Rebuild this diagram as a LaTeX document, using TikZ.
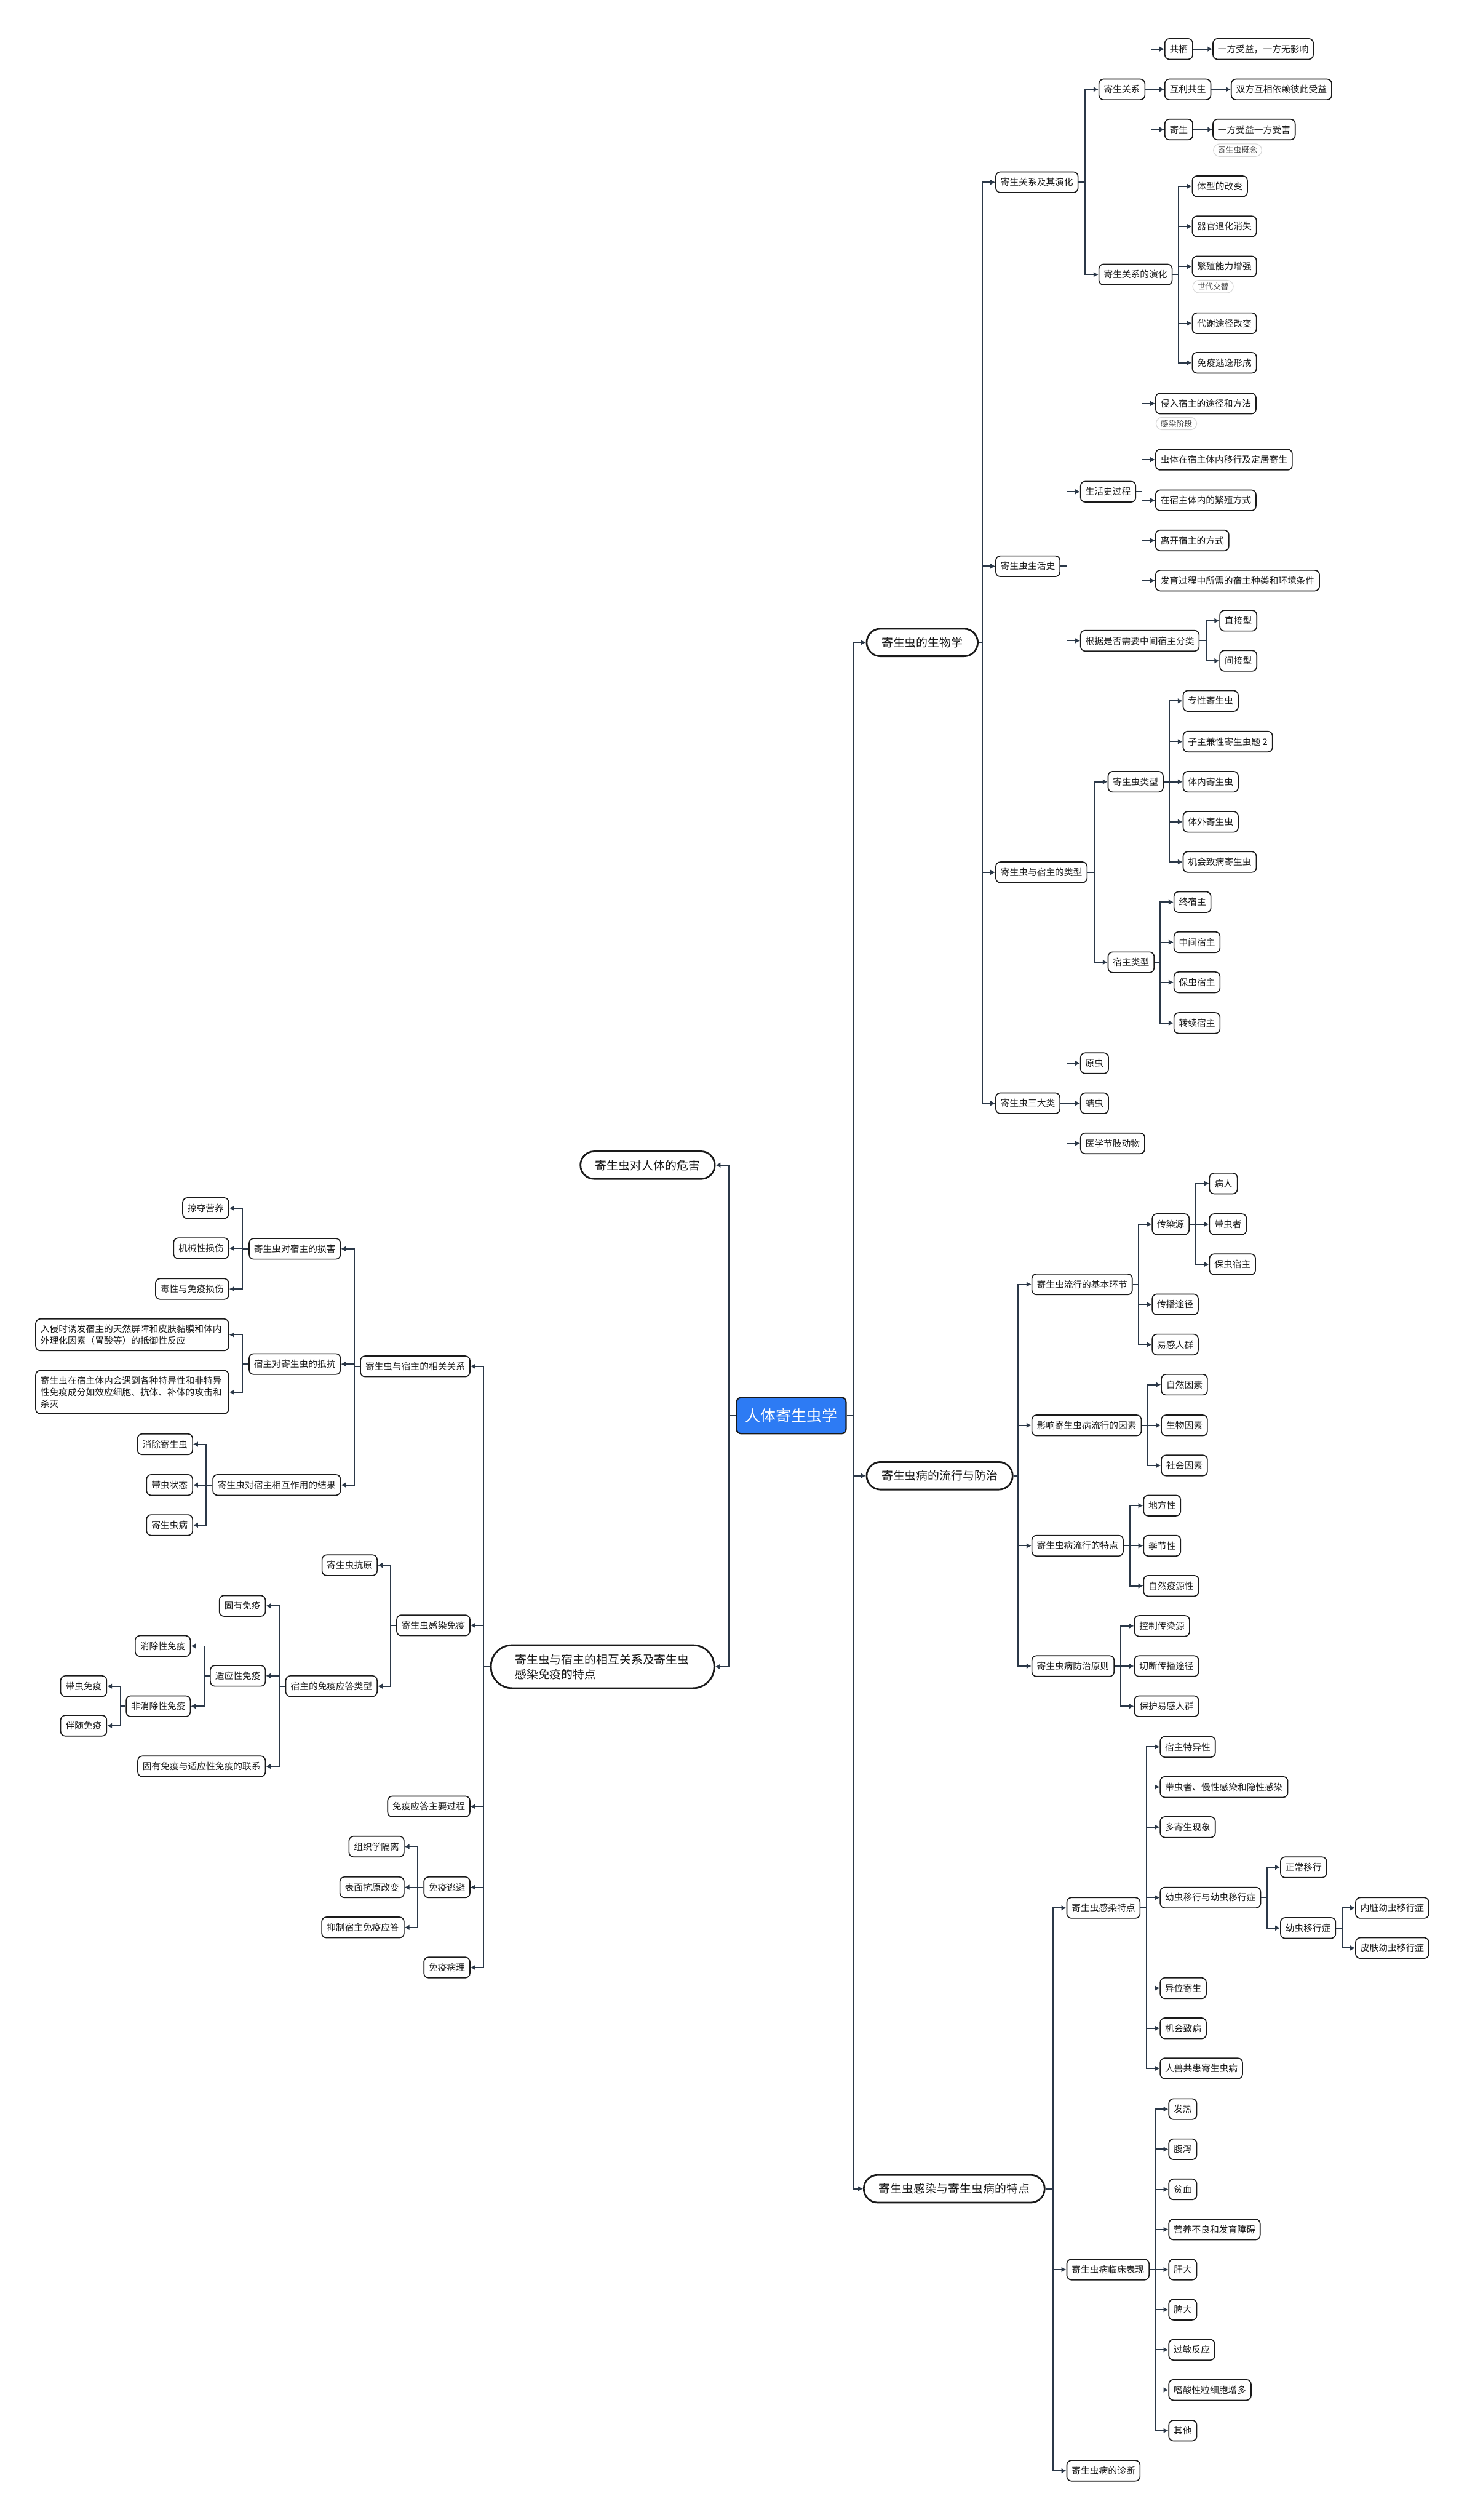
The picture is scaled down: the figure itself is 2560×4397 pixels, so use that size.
\documentclass[tikz,border=0pt]{standalone}
\usepackage{fontspec}
\newfontfamily\cjk{Noto Sans CJK SC}
\usetikzlibrary{arrows.meta}
\definecolor{lc}{HTML}{2B3848}
\definecolor{bd}{HTML}{1A1A1A}
\definecolor{rootblue}{HTML}{2D7BF4}
\definecolor{notegray}{HTML}{D8D8D8}
\newcommand\conR[2]{\draw[conn] (#1.east) -| ([xshift=-2.3mm]#2.west) -- (#2.west);}
\newcommand\conL[2]{\draw[conn] (#1.west) -| ([xshift=2.3mm]#2.east) -- (#2.east);}
\begin{document}
\begin{tikzpicture}[x=0.1mm,y=-0.1mm,
  leaf/.style={draw=bd, line width=0.5pt, rounded corners=0.8mm, fill=white, inner xsep=0.85mm, inner ysep=0.6mm, minimum height=3.6mm, font=\cjk\fontsize{4.5pt}{5.8pt}\selectfont, text=black!90},
  lvl/.style={leaf, line width=0.85pt, rounded corners=2.4mm, inner xsep=2.6mm, minimum height=4.8mm, font=\cjk\fontsize{5.77pt}{7.4pt}\selectfont},
  notebox/.style={draw=notegray, line width=0.35pt, rounded corners=1.1mm, fill=white, inner xsep=0.8mm, inner ysep=0.3mm, minimum height=2.2mm, font=\cjk\fontsize{3.9pt}{4.5pt}\selectfont, text=black!75},
  longbox/.style={leaf, text width=91pt, align=left, inner ysep=1mm},
  rootn/.style={fill=rootblue, draw=bd, line width=0.7pt, rounded corners=0.8mm, minimum width=19.1mm, minimum height=6.3mm, text=white, font=\cjk\fontsize{7.62pt}{9pt}\selectfont},
  conn/.style={draw=lc, line width=0.55pt, -{Latex[length=0.85mm,width=0.95mm]}},
  aw/.style={anchor=west}, ae/.style={anchor=east}]
\useasboundingbox (0,0) rectangle (2560,4397);
\fill[white] (0,0) rectangle (2560,4397);

% root and level 1
\node[rootn] (root) at (1381,2470) {人体寄生虫学};
\node[lvl,aw] (bio) at (1511,1121) {寄生虫的生物学};
\node[lvl,aw] (epi) at (1511,2575) {寄生虫病的流行与防治};
\node[lvl,aw] (inf) at (1506,3819) {寄生虫感染与寄生虫病的特点};
\node[lvl,ae] (harm) at (1249,2033) {寄生虫对人体的危害};
\node[lvl,ae, text width=87pt, align=left, minimum height=7.5mm, rounded corners=3.7mm, inner xsep=4.2mm] (rel) at (1248,2908) {寄生虫与宿主的相互关系及寄生虫\\感染免疫的特点};

\coordinate (rs) at ([xshift=1.2mm]root.east);
\coordinate (ls) at ([xshift=-1.2mm]root.west);
\draw[conn] (root.east) -- (rs) |- (bio.west);
\draw[conn] (root.east) -- (rs) |- (epi.west);
\draw[conn] (root.east) -- (rs) |- (inf.west);
\draw[conn] (root.west) -- (ls) |- (harm.east);
\draw[conn] (root.west) -- (ls) |- (rel.east);

% ===== bio subtree =====
\node[leaf,aw] (b1) at (1737,318) {寄生关系及其演化};
\node[leaf,aw] (b2) at (1737,988) {寄生虫生活史};
\node[leaf,aw] (b3) at (1737,1522) {寄生虫与宿主的类型};
\node[leaf,aw] (b4) at (1737,1925) {寄生虫三大类};
\foreach \c in {b1,b2,b3,b4} {\conR{bio}{\c}}

\node[leaf,aw] (b11) at (1917,156) {寄生关系};
\node[leaf,aw] (b12) at (1917,479) {寄生关系的演化};
\conR{b1}{b11} \conR{b1}{b12}

\node[leaf,aw] (b111) at (2032,85.5) {共栖};
\node[leaf,aw] (b112) at (2032,156) {互利共生};
\node[leaf,aw] (b113) at (2032,226) {寄生};
\conR{b11}{b111} \conR{b11}{b112} \conR{b11}{b113}
\node[leaf,aw] (b1111) at (2116,85.5) {一方受益，一方无影响};
\node[leaf,aw] (b1121) at (2148,156) {双方互相依赖彼此受益};
\node[leaf,aw] (b1131) at (2116,226) {一方受益一方受害};
\draw[conn] (b111.east) -- (b1111.west);
\draw[conn] (b112.east) -- (b1121.west);
\draw[conn] (b113.east) -- (b1131.west);
\node[notebox,aw] (nb1) at (2117,262) {寄生虫概念};

\node[leaf,aw] (b121) at (2080,325) {体型的改变};
\node[leaf,aw] (b122) at (2080,395) {器官退化消失};
\node[leaf,aw] (b123) at (2080,465) {繁殖能力增强};
\node[notebox,aw] (nb2) at (2081,500) {世代交替};
\node[leaf,aw] (b124) at (2080,564) {代谢途径改变};
\node[leaf,aw] (b125) at (2080,633) {免疫逃逸形成};
\foreach \c in {b121,b122,b123,b124,b125} {\conR{b12}{\c}}

\node[leaf,aw] (b21) at (1885,858) {生活史过程};
\node[leaf,aw] (b22) at (1885,1118) {根据是否需要中间宿主分类};
\conR{b2}{b21} \conR{b2}{b22}
\node[leaf,aw] (b211) at (2016,704) {侵入宿主的途径和方法};
\node[notebox,aw] (nb3) at (2017,739) {感染阶段};
\node[leaf,aw] (b212) at (2016,802) {虫体在宿主体内移行及定居寄生};
\node[leaf,aw] (b213) at (2016,873) {在宿主体内的繁殖方式};
\node[leaf,aw] (b214) at (2016,943) {离开宿主的方式};
\node[leaf,aw] (b215) at (2016,1013) {发育过程中所需的宿主种类和环境条件};
\foreach \c in {b211,b212,b213,b214,b215} {\conR{b21}{\c}}
\node[leaf,aw] (b221) at (2128,1083) {直接型};
\node[leaf,aw] (b222) at (2128,1153) {间接型};
\conR{b22}{b221} \conR{b22}{b222}

\node[leaf,aw] (b31) at (1933,1364) {寄生虫类型};
\node[leaf,aw] (b32) at (1933,1679) {宿主类型};
\conR{b3}{b31} \conR{b3}{b32}
\node[leaf,aw] (b311) at (2064,1223) {专性寄生虫};
\node[leaf,aw] (b312) at (2064,1294) {子主兼性寄生虫题 2};
\node[leaf,aw] (b313) at (2064,1364) {体内寄生虫};
\node[leaf,aw] (b314) at (2064,1434) {体外寄生虫};
\node[leaf,aw] (b315) at (2064,1504) {机会致病寄生虫};
\foreach \c in {b311,b312,b313,b314,b315} {\conR{b31}{\c}}
\node[leaf,aw] (b321) at (2048,1574) {终宿主};
\node[leaf,aw] (b322) at (2048,1644) {中间宿主};
\node[leaf,aw] (b323) at (2048,1714) {保虫宿主};
\node[leaf,aw] (b324) at (2048,1785) {转续宿主};
\foreach \c in {b321,b322,b323,b324} {\conR{b32}{\c}}

\node[leaf,aw] (b41) at (1885,1855) {原虫};
\node[leaf,aw] (b42) at (1885,1925) {蠕虫};
\node[leaf,aw] (b43) at (1885,1995) {医学节肢动物};
\foreach \c in {b41,b42,b43} {\conR{b4}{\c}}

% ===== epi subtree =====
\node[leaf,aw] (e1) at (1800,2241) {寄生虫流行的基本环节};
\node[leaf,aw] (e2) at (1800,2487) {影响寄生虫病流行的因素};
\node[leaf,aw] (e3) at (1800,2697) {寄生虫病流行的特点};
\node[leaf,aw] (e4) at (1800,2907) {寄生虫病防治原则};
\foreach \c in {e1,e2,e3,e4} {\conR{epi}{\c}}
\node[leaf,aw] (e11) at (2010,2136) {传染源};
\node[leaf,aw] (e12) at (2010,2276) {传播途径};
\node[leaf,aw] (e13) at (2010,2346) {易感人群};
\foreach \c in {e11,e12,e13} {\conR{e1}{\c}}
\node[leaf,aw] (e111) at (2110,2065) {病人};
\node[leaf,aw] (e112) at (2110,2136) {带虫者};
\node[leaf,aw] (e113) at (2110,2206) {保虫宿主};
\foreach \c in {e111,e112,e113} {\conR{e11}{\c}}
\node[leaf,aw] (e21) at (2026,2416) {自然因素};
\node[leaf,aw] (e22) at (2026,2487) {生物因素};
\node[leaf,aw] (e23) at (2026,2557) {社会因素};
\foreach \c in {e21,e22,e23} {\conR{e2}{\c}}
\node[leaf,aw] (e31) at (1995,2627) {地方性};
\node[leaf,aw] (e32) at (1995,2697) {季节性};
\node[leaf,aw] (e33) at (1995,2767) {自然疫源性};
\foreach \c in {e31,e32,e33} {\conR{e3}{\c}}
\node[leaf,aw] (e41) at (1979,2837) {控制传染源};
\node[leaf,aw] (e42) at (1979,2907) {切断传播途径};
\node[leaf,aw] (e43) at (1979,2977) {保护易感人群};
\foreach \c in {e41,e42,e43} {\conR{e4}{\c}}

% ===== inf subtree =====
\node[leaf,aw] (i1) at (1861,3329) {寄生虫感染特点};
\node[leaf,aw] (i2) at (1861,3960) {寄生虫病临床表现};
\node[leaf,aw] (i3) at (1861,4311) {寄生虫病的诊断};
\foreach \c in {i1,i2,i3} {\conR{inf}{\c}}
\node[leaf,aw] (i11) at (2024,3048) {宿主特异性};
\node[leaf,aw] (i12) at (2024,3118) {带虫者、慢性感染和隐性感染};
\node[leaf,aw] (i13) at (2024,3188) {多寄生现象};
\node[leaf,aw] (i14) at (2024,3311) {幼虫移行与幼虫移行症};
\node[leaf,aw] (i15) at (2024,3469) {异位寄生};
\node[leaf,aw] (i16) at (2024,3539) {机会致病};
\node[leaf,aw] (i17) at (2024,3609) {人兽共患寄生虫病};
\foreach \c in {i11,i12,i13,i14,i15,i16,i17} {\conR{i1}{\c}}
\node[leaf,aw] (i141) at (2234,3258) {正常移行};
\node[leaf,aw] (i142) at (2234,3364) {幼虫移行症};
\conR{i14}{i141} \conR{i14}{i142}
\node[leaf,aw] (i1421) at (2365,3329) {内脏幼虫移行症};
\node[leaf,aw] (i1422) at (2365,3399) {皮肤幼虫移行症};
\conR{i142}{i1421} \conR{i142}{i1422}
\node[leaf,aw] (i21) at (2039,3680) {发热};
\node[leaf,aw] (i22) at (2039,3750) {腹泻};
\node[leaf,aw] (i23) at (2039,3820) {贫血};
\node[leaf,aw] (i24) at (2039,3890) {营养不良和发育障碍};
\node[leaf,aw] (i25) at (2039,3960) {肝大};
\node[leaf,aw] (i26) at (2039,4030) {脾大};
\node[leaf,aw] (i27) at (2039,4100) {过敏反应};
\node[leaf,aw] (i28) at (2039,4170) {嗜酸性粒细胞增多};
\node[leaf,aw] (i29) at (2039,4241) {其他};
\foreach \c in {i21,i22,i23,i24,i25,i26,i27,i28,i29} {\conR{i2}{\c}}

% ===== left subtree =====
\node[leaf,ae] (r1) at (821,2384) {寄生虫与宿主的相关关系};
\node[leaf,ae] (r2) at (821,2836) {寄生虫感染免疫};
\node[leaf,ae] (r3) at (821,3152) {免疫应答主要过程};
\node[leaf,ae] (r4) at (821,3293) {免疫逃避};
\node[leaf,ae] (r5) at (821,3433) {免疫病理};
\foreach \c in {r1,r2,r3,r4,r5} {\conL{rel}{\c}}

\node[leaf,ae] (r11) at (595,2179) {寄生虫对宿主的损害};
\node[leaf,ae] (r12) at (595,2380) {宿主对寄生虫的抵抗};
\node[leaf,ae] (r13) at (595,2591) {寄生虫对宿主相互作用的结果};
\foreach \c in {r11,r12,r13} {\conL{r1}{\c}}
\node[leaf,ae] (r111) at (400,2108) {掠夺营养};
\node[leaf,ae] (r112) at (400,2178) {机械性损伤};
\node[leaf,ae] (r113) at (400,2249) {毒性与免疫损伤};
\foreach \c in {r111,r112,r113} {\conL{r11}{\c}}
\node[longbox,ae] (r121) at (400,2329) {入侵时诱发宿主的天然屏障和皮肤黏膜和体内\\外理化因素（胃酸等）的抵御性反应};
\node[longbox,ae] (r122) at (400,2429) {寄生虫在宿主体内会遇到各种特异性和非特异\\性免疫成分如效应细胞、抗体、补体的攻击和\\杀灭};
\conL{r12}{r121} \conL{r12}{r122}
\node[leaf,ae] (r131) at (337,2520) {消除寄生虫};
\node[leaf,ae] (r132) at (337,2591) {带虫状态};
\node[leaf,ae] (r133) at (337,2661) {寄生虫病};
\foreach \c in {r131,r132,r133} {\conL{r13}{\c}}

\node[leaf,ae] (r21) at (659,2731) {寄生虫抗原};
\node[leaf,ae] (r22) at (659,2942) {宿主的免疫应答类型};
\conL{r2}{r21} \conL{r2}{r22}
\node[leaf,ae] (r221) at (464,2802) {固有免疫};
\node[leaf,ae] (r222) at (464,2924) {适应性免疫};
\node[leaf,ae] (r223) at (464,3082) {固有免疫与适应性免疫的联系};
\foreach \c in {r221,r222,r223} {\conL{r22}{\c}}
\node[leaf,ae] (r2221) at (333,2872) {消除性免疫};
\node[leaf,ae] (r2222) at (333,2977) {非消除性免疫};
\conL{r222}{r2221} \conL{r222}{r2222}
\node[leaf,ae] (r22221) at (187,2942) {带虫免疫};
\node[leaf,ae] (r22222) at (187,3011) {伴随免疫};
\conL{r2222}{r22221} \conL{r2222}{r22222}

\node[leaf,ae] (r41) at (706,3222) {组织学隔离};
\node[leaf,ae] (r42) at (706,3293) {表面抗原改变};
\node[leaf,ae] (r43) at (706,3363) {抑制宿主免疫应答};
\foreach \c in {r41,r42,r43} {\conL{r4}{\c}}
\end{tikzpicture}
\end{document}
